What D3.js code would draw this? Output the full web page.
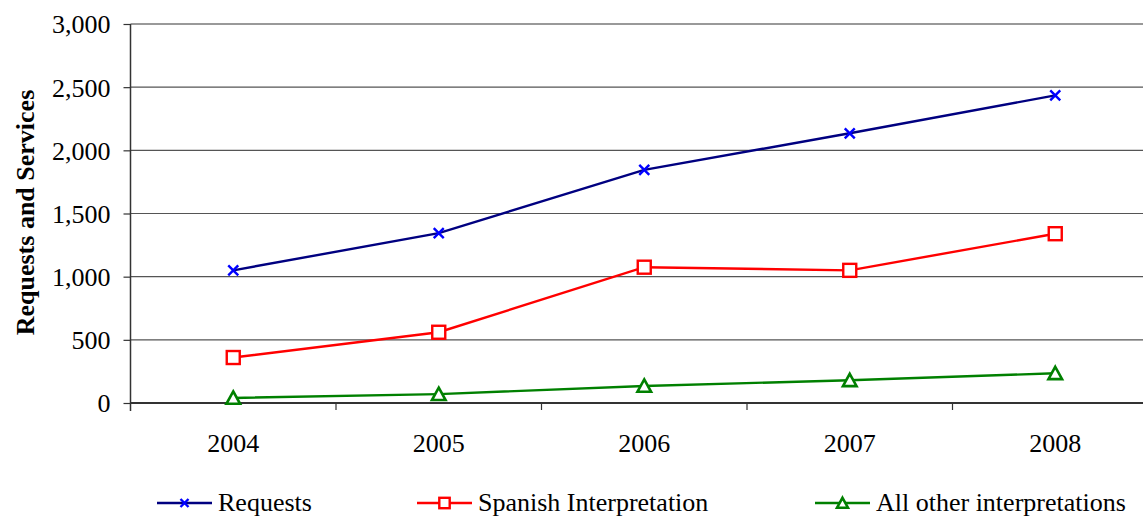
<!DOCTYPE html>
<html>
<head>
<meta charset="utf-8">
<script src="https://cdn.jsdelivr.net/npm/d3@7"></script>
<style>
  body { margin: 0; background: #fff; }
  svg { display: block; }
  svg text { font-family: "Liberation Serif", "Times New Roman", Times, serif; fill: #000; font-size: 26px; }
</style>
</head>
<body>
<svg id="chart" width="1143" height="518"></svg>
<script>
// Yearly counts of interpretation requests and services delivered
const years = ["2004", "2005", "2006", "2007", "2008"];
const requests = [1050, 1345, 1845, 2135, 2435];
const spanish = [360, 560, 1075, 1050, 1340];
const otherInterp = [40, 70, 135, 180, 235];
const yTicks = [0, 500, 1000, 1500, 2000, 2500, 3000];
const seriesNames = ["Requests", "Spanish Interpretation", "All other interpretations"];

(function () {
  const svg = d3.select("#chart");
  const plotLeft = 130.5, plotTop = 24, plotBottom = 403;
  const band = 205.5;

  const x = d3.scaleBand().domain(years).range([plotLeft, plotLeft + band * years.length]).padding(0);
  const y = d3.scaleLinear().domain([0, 3000]).range([plotBottom, plotTop]);

  // horizontal gridlines
  svg.append("g").selectAll("line").data(yTicks.filter(t => t > 0 && t < 3000)).join("line")
    .attr("x1", plotLeft).attr("x2", 1143)
    .attr("y1", d => y(d)).attr("y2", d => y(d))
    .attr("stroke", "#555").attr("stroke-width", 1.2);

  // top frame line
  svg.append("line").attr("x1", plotLeft).attr("x2", 1143)
    .attr("y1", y(3000)).attr("y2", y(3000))
    .attr("stroke", "#999").attr("stroke-width", 2);

  // y axis
  const yAxis = d3.axisLeft(y).tickValues(yTicks).tickSize(7).tickPadding(13)
    .tickFormat(d3.format(","));
  const gy = svg.append("g").attr("transform", `translate(${plotLeft},0)`).call(yAxis)
    .attr("font-family", null).attr("font-size", null);
  gy.select(".domain").remove();
  gy.selectAll(".tick line").attr("stroke", "#333").attr("stroke-width", 1.2);
  gy.selectAll("text").attr("dy", "0.34em");
  svg.append("line").attr("x1", plotLeft).attr("x2", plotLeft).attr("y1", plotTop).attr("y2", plotBottom + 8)
    .attr("stroke", "#333").attr("stroke-width", 1.5);

  // x axis
  svg.append("line").attr("x1", plotLeft).attr("x2", 1143).attr("y1", plotBottom).attr("y2", plotBottom)
    .attr("stroke", "#333").attr("stroke-width", 2);
  svg.append("g").selectAll("line").data(years.slice(1)).join("line")
    .attr("x1", d => x(d)).attr("x2", d => x(d))
    .attr("y1", plotBottom).attr("y2", plotBottom + 7)
    .attr("stroke", "#333").attr("stroke-width", 1.2);
  svg.append("g").selectAll("text").data(years).join("text")
    .attr("x", d => x(d) + x.bandwidth() / 2).attr("y", 452)
    .attr("text-anchor", "middle").text(d => d);

  // axis title
  svg.append("text")
    .attr("transform", `translate(34,${(plotTop + plotBottom) / 2 - 1}) rotate(-90)`)
    .attr("text-anchor", "middle").style("font-weight", "bold")
    .text("Requests and Services");

  const cx = d => x(d) + x.bandwidth() / 2;
  const series = [
    { name: seriesNames[0], values: requests, line: "#000080", mark: "#0000ff", shape: "x" },
    { name: seriesNames[1], values: spanish, line: "#ff0000", mark: "#ff0000", shape: "square" },
    { name: seriesNames[2], values: otherInterp, line: "#008000", mark: "#008000", shape: "triangle" }
  ];

  function drawMarker(g, shape, color, px, py, k) {
    if (shape === "x") {
      const s = 5 * k;
      g.append("path").attr("d", `M${px - s},${py - s}L${px + s},${py + s}M${px - s},${py + s}L${px + s},${py - s}`)
        .attr("stroke", color).attr("stroke-width", 2.4).attr("fill", "none");
    } else if (shape === "square") {
      const s = 6.5 * k;
      g.append("rect").attr("x", px - s).attr("y", py - s).attr("width", 2 * s).attr("height", 2 * s)
        .attr("fill", "#fff").attr("stroke", color).attr("stroke-width", 2.4);
    } else {
      const h = 6.5 * k;
      g.append("path").attr("d", `M${px},${py - h}L${px + h * 1.05},${py + h * 0.9}L${px - h * 1.05},${py + h * 0.9}Z`)
        .attr("fill", "#fff").attr("stroke", color).attr("stroke-width", 2.6);
    }
  }

  const line = d3.line().x((d, i) => cx(years[i])).y(d => y(d));
  series.forEach(s => {
    const g = svg.append("g");
    g.append("path").datum(s.values).attr("d", line)
      .attr("fill", "none").attr("stroke", s.line).attr("stroke-width", 2.4);
    s.values.forEach((v, i) => drawMarker(g, s.shape, s.mark, cx(years[i]), y(v), 1));
  });

  // legend
  const legendX = [157, 417, 815];
  const legendY = 503;
  series.forEach((s, i) => {
    const g = svg.append("g");
    const x0 = legendX[i], x1 = x0 + 55;
    g.append("line").attr("x1", x0).attr("x2", x1).attr("y1", legendY).attr("y2", legendY)
      .attr("stroke", s.line).attr("stroke-width", 2.4);
    drawMarker(g, s.shape, s.mark, (x0 + x1) / 2, legendY, 0.8);
    g.append("text").attr("x", x1 + 6).attr("y", 511).text(s.name);
  });
})();
</script>
</body>
</html>
